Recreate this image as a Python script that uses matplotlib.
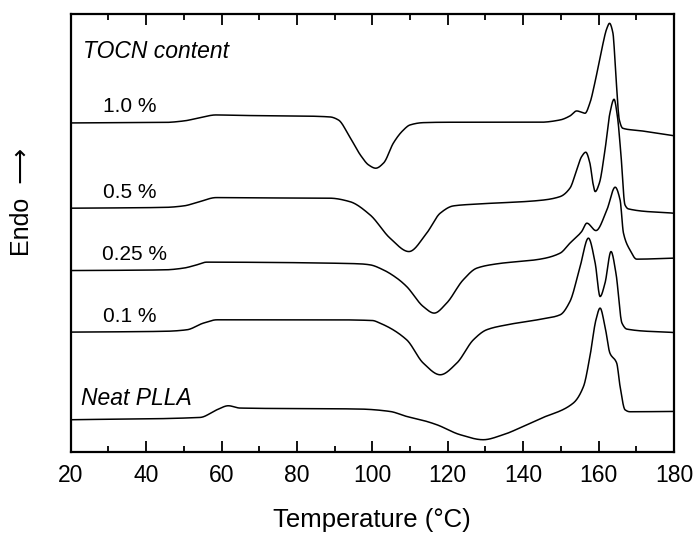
import numpy as np
import matplotlib
matplotlib.use("Agg")
import matplotlib.pyplot as plt
from matplotlib.ticker import MultipleLocator

plt.rcParams['font.family'] = ['Liberation Sans', 'DejaVu Sans']

# DSC heating curves (arbitrary heat-flow units, endo up)
t_10 = [20, 45, 50, 54, 58.5, 65, 80, 88.8, 91, 94, 97, 99, 100.9, 103, 105.6, 108, 110,
        113.5, 120, 144.5, 149.8, 152.4, 154.2, 155.5, 156.4, 157.7, 159, 160.8, 162.2,
        162.9, 163.8, 164.6, 165.5, 166.4, 171, 179.8]
q_10 = [329, 329.5, 331, 334, 337, 336.5, 336, 335, 332, 315, 296, 287, 283.7, 289, 309, 321, 327,
        329.3, 329.7, 329.7, 332, 336, 341, 339.7, 338.7, 349, 369, 402, 423.7,
        428.7, 419, 375.3, 332, 323.7, 321.3, 316.3]

t_05 = [20, 45, 50, 54, 58.6, 70, 88.8, 94, 99.4, 104.7, 109.7, 114.4, 118, 121.5, 128.6,
        144.5, 149.8, 152.4, 154.2, 155.5, 156.6, 157.7, 158.5, 159.1, 160.2, 161.7, 163,
        164.1, 165, 165.9, 167, 167.9, 179.8]
q_05 = [243.7, 244.5, 246, 250, 254.3, 254, 253.7, 250.3, 237, 213.7, 200.3, 218.7, 238.7, 246, 248,
        251.5, 255.3, 263.7, 282, 295.3, 299.7, 288.7, 268.7, 260.3, 268.7, 302, 338.7,
        352.7, 335.3, 298.7, 247, 243, 238.7]

t_025 = [20, 45, 49.9, 53, 56.1, 70, 88.8, 96.7, 99.4, 102.9, 106.5, 109.1, 113.5, 116.4, 119.7,
         124.1, 127.7, 133, 144.5, 149.8, 152.4, 155.5, 156.9, 159.3, 162.2, 164.4, 165.7,
         166.6, 168.3, 170.1, 179.8]
q_025 = [181.3, 182, 183.7, 186.5, 189.7, 189.5, 188.7, 188, 187, 182, 173.7, 165.3, 145.3, 138.7, 148.7,
         172, 183.7, 188, 192.7, 198.7, 208.7, 220.3, 228.7, 221.3, 242, 264.7, 252,
         218.7, 202, 192.7, 193.7]

t_01 = [20, 45, 50.8, 55.2, 58.8, 70, 88.8, 100, 102, 109.1, 113.5, 118, 122.4, 126.8, 130.3,
        135.7, 144.5, 149.8, 152.4, 155.1, 157.3, 159.1, 160.4, 161.7, 163.3, 164.6, 166.2,
        167.5, 179.8]
q_01 = [119.7, 120.5, 122, 128.7, 132, 132, 132, 131.3, 128.7, 112, 88.7, 77, 88.7, 112, 122,
        127, 132.5, 137, 150.3, 185.3, 213.7, 188.7, 155.3, 168.7, 200.3, 178.7, 128.7,
        122.7, 119.3]

t_neat = [20, 54.3, 58.8, 61.8, 64.9, 96.7, 104.7, 109.1, 113.5, 117.1, 123.3, 129.4, 134.7,
          140, 144.5, 153.3, 156, 157.7, 159.3, 160.4, 161.7, 163, 164.8, 165.7, 167, 168.3, 179.8]
q_neat = [32, 34.3, 42, 46, 43.7, 42.7, 40.3, 35.3, 31.3, 27, 17, 12, 17,
          25.3, 33, 48.7, 65.3, 95.3, 132, 143.7, 125.3, 98.7, 88.7, 65.3, 42, 40, 40.3]

curves = [(t_10, q_10), (t_05, q_05), (t_025, q_025), (t_01, q_01), (t_neat, q_neat)]

labels = ["1.0 %", "0.5 %", "0.25 %", "0.1 %"]
label_t = [28.7, 28.7, 28.2, 28.7]
label_q = [345, 259.3, 197, 135.3]


def pchip(x, y, xs):
    # shape-preserving cubic, only used to draw the traced points smoothly
    x = np.asarray(x, float)
    y = np.asarray(y, float)
    h = np.diff(x)
    d = np.diff(y) / h
    m = np.zeros_like(y)
    for k in range(1, len(x) - 1):
        if d[k - 1] * d[k] > 0:
            w1 = 2 * h[k] + h[k - 1]
            w2 = h[k] + 2 * h[k - 1]
            m[k] = (w1 + w2) / (w1 / d[k - 1] + w2 / d[k])
    m[0] = d[0]
    m[-1] = d[-1]
    i = np.clip(np.searchsorted(x, xs) - 1, 0, len(x) - 2)
    s = (xs - x[i]) / h[i]
    h00 = 2 * s**3 - 3 * s**2 + 1
    h10 = s**3 - 2 * s**2 + s
    h01 = -2 * s**3 + 3 * s**2
    h11 = s**3 - s**2
    return h00 * y[i] + h10 * h[i] * m[i] + h01 * y[i + 1] + h11 * h[i] * m[i + 1]


fig = plt.figure(figsize=(6.97, 5.33), dpi=100)
ax = fig.add_axes([0.1014, 0.1525, 0.8656, 0.8212])

for t, q in curves:
    ts = np.linspace(t[0], t[-1], 1500)
    ax.plot(ts, pchip(t, q, ts), color='black', lw=1.1)

for lab, x, y in zip(labels, label_t, label_q):
    ax.text(x, y, lab, fontsize=15, ha='left', va='center')
ax.text(23.2, 400, "TOCN content", fontsize=16.5, style='italic', ha='left', va='center')
ax.text(22.7, 53.7, "Neat PLLA", fontsize=16.5, style='italic', ha='left', va='center')

ax.set_xlim(20, 180)
ax.set_ylim(0, 438)
ax.xaxis.set_major_locator(MultipleLocator(20))
ax.xaxis.set_minor_locator(MultipleLocator(10))
ax.tick_params(axis='x', which='both', direction='in', top=True, labelsize=16.5, pad=9, width=1.3)
ax.tick_params(axis='x', which='major', length=8)
ax.tick_params(axis='x', which='minor', length=4.5)
ax.set_yticks([])
for sp in ax.spines.values():
    sp.set_linewidth(1.6)

ax.set_xlabel("Temperature (°C)", fontsize=18.5)
ax.xaxis.set_label_coords(0.5, -0.128)
ax.set_ylabel("Endo  \u27f6", fontsize=18)
ax.yaxis.set_label_coords(-0.061, 0.57)

fig.savefig("out.png", dpi=100)
